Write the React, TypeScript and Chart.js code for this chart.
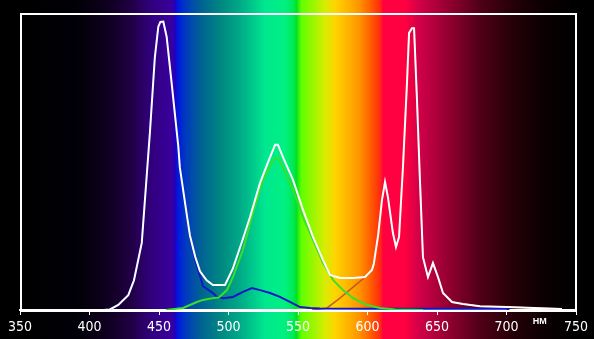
import { useEffect, useRef } from "react";
import { Chart, registerables } from "chart.js";

Chart.register(...registerables);

// wavelengths (nm) and relative intensities
const whiteNm = [350, 400, 410, 414.7, 420.7, 427.9, 432, 437.6, 443.5, 447, 449.5, 451, 453.1, 455.5, 459.1, 463.9, 465, 470, 472.3, 476, 479.5, 484.3, 488.8, 497.5, 503.2, 510.4, 515.5, 522.7, 529.9, 533.5, 535.6, 539.2, 546.4, 553.6, 560.8, 568, 573, 580.2, 589.6, 598.2, 603.2, 604.5, 607.6, 610.4, 612.6, 614.7, 618.3, 620.5, 622.7, 625.5, 628.4, 629.9, 632, 633.5, 635.6, 637.8, 639.9, 643.5, 647.1, 650.7, 654.3, 660.8, 668.7, 680.9, 700.4, 739.9];
const whiteVal = [0, 0, 0, 0.002, 0.017, 0.05, 0.1, 0.226, 0.6, 0.85, 0.954, 0.97, 0.971, 0.92, 0.764, 0.55, 0.48, 0.32, 0.25, 0.18, 0.13, 0.1, 0.084, 0.084, 0.14, 0.24, 0.313, 0.428, 0.515, 0.556, 0.556, 0.515, 0.438, 0.337, 0.246, 0.168, 0.118, 0.108, 0.108, 0.111, 0.135, 0.155, 0.25, 0.37, 0.431, 0.38, 0.259, 0.212, 0.246, 0.481, 0.764, 0.933, 0.949, 0.949, 0.707, 0.428, 0.178, 0.111, 0.158, 0.111, 0.057, 0.027, 0.02, 0.013, 0.01, 0.003];

const blueNm = [350, 410, 414.7, 420.7, 427.9, 432, 437.6, 443.5, 447, 449.5, 451, 453.1, 455.5, 459.1, 463.9, 465, 470, 472.3, 476, 481.7, 488.8, 491.7, 496, 503.2, 510.4, 516.9, 522.7, 529.9, 537, 544.2, 551.4, 558.6, 565.8, 600, 650, 700, 702];
const blueVal = [0, 0, 0.002, 0.017, 0.05, 0.1, 0.226, 0.6, 0.85, 0.954, 0.97, 0.971, 0.92, 0.764, 0.55, 0.48, 0.32, 0.245, 0.17, 0.08, 0.057, 0.044, 0.04, 0.044, 0.061, 0.074, 0.067, 0.057, 0.044, 0.027, 0.01, 0.007, 0.005, 0.004, 0.004, 0.004, 0];

const greenNm = [455, 467.3, 477.3, 481.7, 488.8, 493, 498.9, 503.2, 510.4, 517.6, 524.8, 532, 535.6, 539.2, 546.4, 553.6, 560.8, 568, 575.2, 582.4, 589.6, 599.6, 609, 620, 640];
const greenVal = [0, 0.007, 0.027, 0.034, 0.04, 0.042, 0.067, 0.111, 0.202, 0.327, 0.438, 0.505, 0.512, 0.481, 0.404, 0.313, 0.236, 0.158, 0.101, 0.067, 0.04, 0.017, 0.007, 0.002, 0];

const redNm = [560, 570.9, 580.2, 589.6, 596.8, 598.2, 603.2, 604.5, 607.6, 610.4, 612.6, 614.7, 618.3, 620.5, 622.7, 625.5, 628.4, 629.9, 632, 633.5, 635.6, 637.8, 639.9, 643.5, 647.1, 650.7, 654.3, 660.8, 668.7, 680.9, 700.4, 739.9];
const redVal = [0, 0.007, 0.04, 0.077, 0.105, 0.111, 0.135, 0.155, 0.25, 0.37, 0.431, 0.38, 0.259, 0.212, 0.246, 0.481, 0.764, 0.933, 0.949, 0.949, 0.707, 0.428, 0.178, 0.111, 0.158, 0.111, 0.057, 0.027, 0.02, 0.013, 0.01, 0.003];

const xTicks = [350, 400, 450, 500, 550, 600, 650, 700, 750];
const unitLabel = "НМ";

// background spectrum: [fraction across plot, colour]
const spectrumStops: [number, string][] = [
  [0, "#000000"], [0.108, "#020008"], [0.162, "#100022"], [0.198, "#200042"],
  [0.234, "#30007a"], [0.273, "#3a009e"], [0.279, "#2000c0"], [0.284, "#0018e0"],
  [0.297, "#0038c0"], [0.324, "#006094"], [0.36, "#008682"], [0.396, "#00aa88"],
  [0.441, "#00e890"], [0.477, "#00f080"], [0.493, "#00e850"], [0.497, "#00e020"],
  [0.506, "#60ff00"], [0.549, "#d8ec00"], [0.567, "#ffd400"], [0.594, "#ffae00"],
  [0.612, "#ff9000"], [0.63, "#ff6000"], [0.648, "#ff2a10"], [0.653, "#ff0040"],
  [0.692, "#ff0040"], [0.719, "#d00048"], [0.773, "#900030"], [0.827, "#500018"],
  [0.881, "#280008"], [0.944, "#0a0002"], [1, "#000000"],
];

const pts = (xs: number[], ys: number[]) => xs.map((x, i) => ({ x, y: ys[i] }));

const bgPlugin = {
  id: "spectrumBg",
  beforeDraw(chart: any) {
    const { ctx, chartArea, width, height } = chart;
    ctx.save();
    ctx.fillStyle = "#000";
    ctx.fillRect(0, 0, width, height);
    const g = ctx.createLinearGradient(chartArea.left, 0, chartArea.right, 0);
    spectrumStops.forEach(([f, c]) => g.addColorStop(f, c));
    ctx.fillStyle = g;
    ctx.fillRect(chartArea.left, 0, chartArea.right - chartArea.left, height);
    ctx.restore();
  },
  beforeDatasetsDraw(chart: any) {
    const { ctx, chartArea } = chart;
    ctx.save();
    ctx.strokeStyle = "#fff";
    ctx.lineWidth = 2;
    ctx.strokeRect(chartArea.left + 1, chartArea.top + 1, chartArea.right - chartArea.left - 1, chartArea.bottom - chartArea.top);
    ctx.restore();
  },
  afterDraw(chart: any) {
    const { ctx } = chart;
    const xs = chart.scales.x;
    ctx.save();
    ctx.fillStyle = "#fff";
    ctx.font = "bold 9px 'Liberation Sans', Arial, sans-serif";
    ctx.textAlign = "center";
    ctx.textBaseline = "middle";
    ctx.fillText(unitLabel, xs.getPixelForValue(724), 322);
    ctx.restore();
  },
};

export default function App() {
  const ref = useRef<HTMLCanvasElement>(null);
  useEffect(() => {
    document.body.style.margin = "0";
    const line = (data: any, color: string, width: number) => ({
      data, borderColor: color, borderWidth: width, pointRadius: 0, tension: 0, fill: false,
    });
    const chart = new Chart(ref.current!, {
      type: "line",
      data: {
        datasets: [
          line(pts(whiteNm, whiteVal), "#ffffff", 2),
          line(pts(greenNm, greenVal), "#38e028", 2),
          line(pts(blueNm, blueVal), "#1414c8", 2),
          line(pts(redNm, redVal), "rgba(196,80,36,0.9)", 1.5),
        ],
      },
      options: {
        responsive: false,
        animation: false,
        parsing: false,
        layout: { padding: { left: 20, right: 18, top: 13, bottom: 0 } },
        plugins: { legend: { display: false }, tooltip: { enabled: false } },
        scales: {
          x: {
            type: "linear",
            min: 350,
            max: 750,
            afterBuildTicks: (s: any) => { s.ticks = xTicks.map((v) => ({ value: v })); },
            afterFit: (s: any) => { s.height = 29; },
            grid: { display: true, drawOnChartArea: false, drawTicks: true, tickLength: 5, color: "#fff", lineWidth: 1 },
            border: { display: true, color: "#fff", width: 2 },
            ticks: {
              color: "#fff",
              padding: 4,
              maxRotation: 0,
              autoSkip: false,
              font: { family: "'Liberation Sans Narrow', 'DejaVu Sans Condensed', sans-serif", size: 14 },
            },
          },
          y: { display: false, min: 0, max: 1 },
        },
      },
      plugins: [bgPlugin],
    });
    return () => chart.destroy();
  }, []);
  return (
    <div style={{ width: 594, height: 339, background: "#000" }}>
      <canvas ref={ref} width={594} height={339} />
    </div>
  );
}
